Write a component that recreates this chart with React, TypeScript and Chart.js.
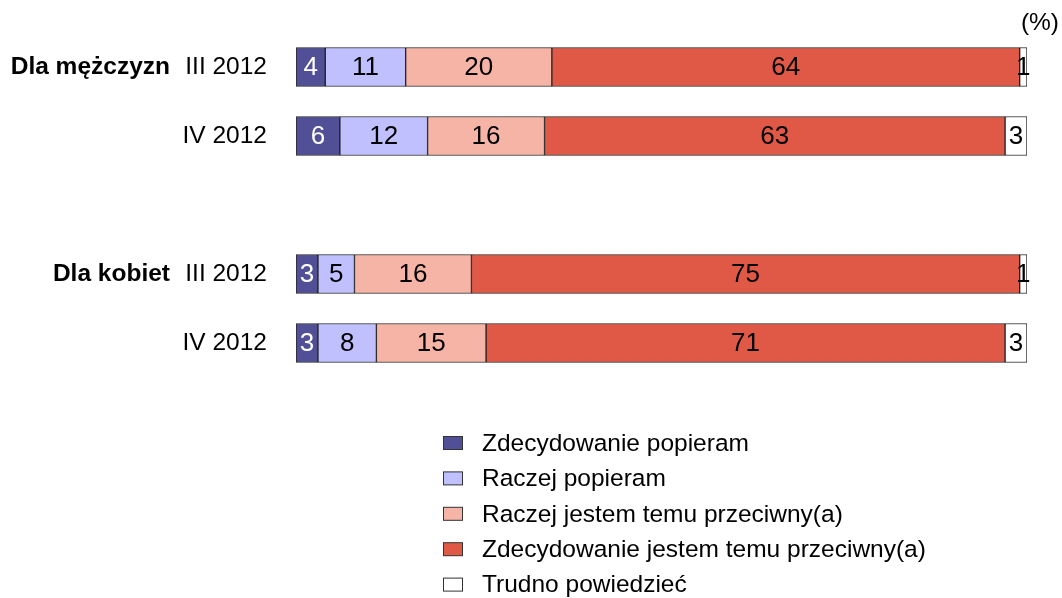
import React, { useEffect, useRef } from "react";
import { Chart, registerables } from "chart.js";

Chart.register(...registerables);

const categories = ["III 2012", "IV 2012", "", "III 2012", "IV 2012"];
const groupLabels = ["Dla mężczyzn", "", "", "Dla kobiet", ""];
const seriesNames = [
  "Zdecydowanie popieram",
  "Raczej popieram",
  "Raczej jestem temu przeciwny(a)",
  "Zdecydowanie jestem temu przeciwny(a)",
  "Trudno powiedzieć",
];
const strongSupport = [4, 6, null, 3, 3];
const ratherSupport = [11, 12, null, 5, 8];
const ratherAgainst = [20, 16, null, 16, 15];
const strongAgainst = [64, 63, null, 75, 71];
const hardToSay = [1, 3, null, 1, 3];
const seriesColors = ["#514F95", "#C0C0FF", "#F6B4A6", "#E05947", "#FFFFFF"];
const labelColors = ["#FFFFFF", "#000000", "#000000", "#000000", "#000000"];
const unitLabel = "(%)";

const FONT = "'Liberation Sans', Arial, sans-serif";

const textPlugin = {
  id: "texts",
  afterDatasetsDraw(chart: any) {
    const ctx = chart.ctx;
    const yScale = chart.scales.y;
    ctx.save();
    chart.data.datasets.forEach((ds: any, di: number) => {
      const meta = chart.getDatasetMeta(di);
      meta.data.forEach((bar: any, i: number) => {
        const v = ds.data[i];
        if (v === null || v === undefined) return;
        const x = (bar.x + bar.base) / 2;
        ctx.font = `26px ${FONT}`;
        ctx.fillStyle = labelColors[di];
        ctx.textAlign = "center";
        ctx.textBaseline = "middle";
        ctx.fillText(String(v), x, bar.y + 1);
      });
    });
    categories.forEach((c, i) => {
      const y = yScale.getPixelForValue(i);
      ctx.fillStyle = "#000";
      ctx.textAlign = "right";
      ctx.textBaseline = "middle";
      if (c) {
        ctx.font = `24.5px ${FONT}`;
        ctx.fillText(c, 267, y);
      }
      if (groupLabels[i]) {
        ctx.font = `bold 24.5px ${FONT}`;
        ctx.fillText(groupLabels[i], 170, y);
      }
    });
    ctx.font = `24.5px ${FONT}`;
    ctx.fillStyle = "#000";
    ctx.textAlign = "right";
    ctx.textBaseline = "middle";
    ctx.fillText(unitLabel, 1059, 23);
    seriesNames.forEach((name, i) => {
      const y = 443 + i * 35.4;
      ctx.fillStyle = seriesColors[i];
      ctx.fillRect(443.5, y - 6.5, 19, 13);
      ctx.strokeStyle = "#333";
      ctx.lineWidth = 1;
      ctx.strokeRect(443.5, y - 6.5, 19, 13);
      ctx.font = `24.5px ${FONT}`;
      ctx.fillStyle = "#000";
      ctx.textAlign = "left";
      ctx.textBaseline = "middle";
      ctx.fillText(name, 482, y + 1);
    });
    ctx.restore();
  },
};

export default function App() {
  const ref = useRef<HTMLCanvasElement>(null);
  useEffect(() => {
    if (!ref.current) return;
    const data = [strongSupport, ratherSupport, ratherAgainst, strongAgainst, hardToSay];
    const chart = new Chart(ref.current, {
      type: "bar",
      data: {
        labels: categories,
        datasets: data.map((d, i) => ({
          label: seriesNames[i],
          data: d,
          backgroundColor: seriesColors[i],
          borderColor: "#222222",
          borderWidth: 1,
          borderSkipped: false,
          barThickness: 39,
        })),
      },
      options: {
        indexAxis: "y",
        animation: false,
        responsive: false,
        maintainAspectRatio: false,
        layout: { padding: { left: 296, right: 35, top: 32.5, bottom: 220.5 } },
        plugins: { legend: { display: false }, tooltip: { enabled: false } },
        scales: {
          x: { stacked: true, min: 0, max: 100, display: false },
          y: { stacked: true, display: false },
        },
      },
      plugins: [textPlugin],
    });
    return () => chart.destroy();
  }, []);
  return (
    <div style={{ position: "fixed", left: 0, top: 0, width: 1062, height: 598, background: "#fff" }}>
      <canvas ref={ref} width={1062} height={598} style={{ display: "block" }} />
    </div>
  );
}
